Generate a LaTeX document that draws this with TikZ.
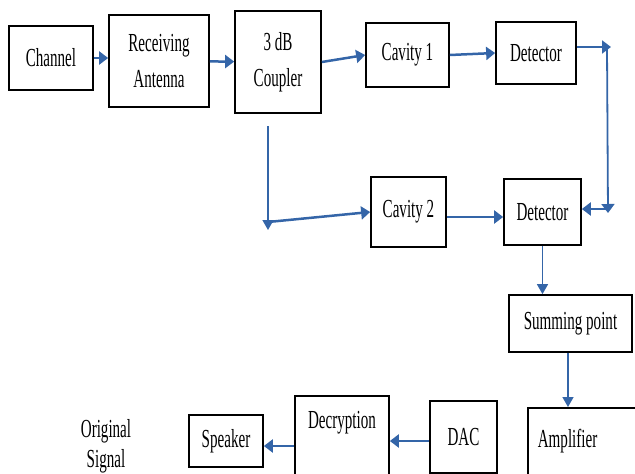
\documentclass[tikz,border=0pt]{standalone}
\usepackage{fontspec}
\setmainfont{Liberation Serif}[FakeStretch=0.58]
\usepackage{tikz}
\usetikzlibrary{arrows.meta, positioning, calc}
\definecolor{linkblue}{RGB}{52, 101, 168}

\begin{document}
\begin{tikzpicture}[
			x=1pt, y=-1pt,
			block/.style={rectangle, draw, line width=1.7pt, align=center, inner sep=0pt, font=\fontsize{26}{36}\selectfont},
			flow/.style={-{Triangle[length=9pt, width=13pt]}, line width=2.5pt, draw=linkblue},
			thinflow/.style={-{Triangle[length=10pt, width=11pt]}, line width=1.4pt, draw=linkblue}
		]
		\useasboundingbox (0,0) rectangle (635,474);
		\clip (0,0) rectangle (635,474);
		
		% Receiver chain
		\node[block, minimum width=84, minimum height=64] (channel) at (51,58) {Channel};
		\node[block, minimum width=100, minimum height=92] (antenna) at (159,61) {Receiving\\Antenna};
		\node[block, minimum width=86, minimum height=102] (coupler) at (278,62) {3 dB\\Coupler};
		\node[block, minimum width=83, minimum height=64] (cavone) at (407.5,55) {Cavity 1};
		\node[block, minimum width=80, minimum height=62] (detone) at (536,53) {Detector};
		\node[block, minimum width=75, minimum height=70] (cavtwo) at (408.5,212) {Cavity 2};
		\node[block, minimum width=77, minimum height=66] (dettwo) at (542.5,212) {Detector};
		\node[block, minimum width=123, minimum height=57] (summing) at (570.5,323.5) {Summing point};
		\node[block, anchor=north west, align=left, inner xsep=10pt, text width=120pt, text height=40pt, text depth=50pt] (amplifier) at (527,407) {Amplifier};
		\node[block, minimum width=67, minimum height=72] (dac) at (463.5,437) {DAC};
		\node[block, anchor=north, minimum width=94, text height=33pt, text depth=60pt] (decryption) at (342,395) {Decryption};
		\node[block, minimum width=74, minimum height=52] (speaker) at (226,441) {Speaker};
		\node[align=center, inner sep=0pt, font=\fontsize{26}{30}\selectfont] (original) at (106,446) {Original\\Signal};
		
		% Turning points
		\coordinate (topturn) at (611,47);
		\coordinate (botturn) at (608,209);
		\coordinate (coupout) at (268,126);
		\coordinate (coupdrop) at (268,222);
		
		\draw[flow] (channel.east) -- (channel.east -| antenna.west);
		\draw[flow] (antenna) -- (coupler);
		\draw[flow] (coupler.east) -- (cavone.west);
		\draw[flow] (cavone.east) -- (detone.west);
		\draw[flow] (detone.east |- topturn) -- (topturn);
		\draw[flow, line width=1.8pt] ([xshift=-4pt]topturn) -- ([yshift=-4pt]botturn);
		\draw[flow] (botturn) -- (botturn -| dettwo.east);
		\draw[thinflow] (coupout) -- ([yshift=-8pt]coupdrop);
		\draw[flow] (coupdrop) -- (cavtwo.west);
		\draw[flow] ([yshift=-5pt]cavtwo.east) -- ([yshift=-5pt]cavtwo.east -| dettwo.west);
		\draw[thinflow] (dettwo.south) -- (dettwo.south |- summing.north);
		\draw[thinflow] ([xshift=-2.5pt]summing.south) -- ([xshift=-2.5pt]summing.south |- amplifier.north);
		\draw[flow] ([yshift=-4pt]dac.west) -- ([yshift=-4pt]dac.west -| decryption.east);
		\draw[flow] ([yshift=-5pt]speaker.east -| decryption.west) -- ([yshift=-5pt]speaker.east);
		\end{tikzpicture}
\end{document}
